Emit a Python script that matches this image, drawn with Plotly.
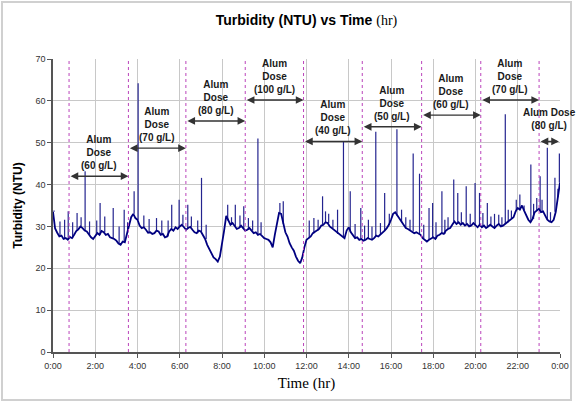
import plotly.graph_objects as go

# Baseline turbidity read every 0.1 h (0:00 .. 24:00)
base_step_hr = 0.1
base_values = [
    33.5, 29.5, 28.5, 27.6, 27.8, 27.0, 27.2, 26.8, 27.5, 27.2,
    28.0, 28.9, 29.3, 30.0, 29.6, 29.0, 28.8, 28.0, 27.4, 27.0,
    27.6, 28.4, 28.0, 28.9, 28.6, 28.0, 28.2, 27.4, 27.2, 27.0,
    26.6, 25.9, 25.6, 26.4, 26.2, 28.4, 30.5, 32.2, 33.0, 32.0,
    31.6, 30.2, 29.6, 29.8, 29.2, 28.5, 28.6, 28.2, 28.4, 29.0,
    28.8, 28.0, 28.2, 27.4, 27.6, 28.8, 29.4, 29.0, 29.8, 29.4,
    30.0, 30.4, 29.8, 29.2, 29.6, 29.9, 29.2, 28.6, 28.4, 29.0,
    28.8, 28.0, 27.0, 25.6, 24.6, 23.8, 22.6, 22.2, 21.6, 22.8,
    25.5, 29.0, 32.5, 31.4, 30.4, 30.8, 30.0, 29.4, 29.6, 30.2,
    29.6, 29.0, 29.2, 29.6, 29.0, 28.4, 28.6, 28.0, 28.2, 27.6,
    27.2, 27.0, 26.8, 26.2, 25.0, 28.0, 31.0, 33.2, 33.0, 30.6,
    28.6, 27.6, 26.0, 25.0, 24.2, 22.8, 21.8, 21.2, 22.6, 25.0,
    26.8, 27.2, 27.6, 28.4, 28.8, 29.0, 29.4, 30.2, 30.4, 31.0,
    30.8, 30.0, 29.6, 29.0, 28.6, 28.2, 27.8, 27.4, 27.2, 29.0,
    29.8, 28.6, 27.8, 27.2, 27.4, 26.8, 27.0, 26.6, 26.8, 27.2,
    27.0, 26.8, 27.2, 27.8, 27.6, 28.0, 28.4, 29.0, 29.6, 30.4,
    31.6, 33.0, 33.4, 32.6, 32.0, 31.0, 30.2, 29.6, 29.4, 29.0,
    28.8, 28.4, 28.6, 28.2, 28.0, 27.2, 26.8, 26.4, 26.8, 27.2,
    27.4, 27.0, 27.8, 28.0, 28.4, 28.2, 29.0, 29.4, 29.6, 30.4,
    31.2, 30.6, 31.0, 30.4, 30.8, 30.2, 30.6, 30.0, 30.2, 30.8,
    30.2, 29.8, 30.4, 29.8, 30.2, 29.6, 30.0, 30.4, 30.0, 29.6,
    30.2, 30.6, 30.0, 30.2, 30.6, 31.0, 31.4, 32.0, 32.2, 33.6,
    34.4, 34.0, 35.0, 33.8, 32.6, 31.6, 31.0, 31.8, 33.4, 33.8,
    34.2, 33.4, 33.6, 32.6, 31.6, 31.2, 31.0, 31.6, 33.5, 37.0,
    40.5,
]

# Short spikes (time in hours, peak turbidity in NTU)
spike_hours = [
    0.05, 0.33, 0.55, 0.72, 0.93, 1.14, 1.33, 1.52, 1.73, 2.07,
    2.23, 2.45, 2.85, 3.13, 3.37, 3.53, 3.84, 4.03, 4.30, 4.55,
    4.90, 5.15, 5.45, 5.62, 5.97, 6.15, 6.38, 6.55, 6.85, 7.03,
    7.25, 8.27, 8.45, 8.63, 8.85, 9.03, 9.25, 9.45, 9.70, 9.85,
    10.74, 10.90, 12.13, 12.35, 12.55, 12.76, 12.90, 13.05, 13.25, 13.47,
    13.75, 14.07, 14.30, 14.57, 14.75, 14.93, 15.10, 15.28, 15.50, 15.70,
    15.92, 16.28, 16.50, 16.70, 16.90, 17.05, 17.35, 17.55, 17.80, 17.97,
    18.13, 18.41, 18.55, 18.70, 18.97, 19.16, 19.33, 19.56, 19.75, 19.98,
    20.19, 20.35, 20.56, 20.73, 20.90, 21.10, 21.25, 21.41, 21.55, 21.70,
    21.93, 22.10, 22.30, 22.62, 22.75, 22.90, 23.06, 23.15, 23.40, 23.55,
    23.76, 23.90, 23.97,
]
spike_values = [
    33.8, 31.2, 31.6, 33.6, 31.0, 33.2, 32.2, 43.2, 31.2, 31.4,
    35.6, 32.4, 34.4, 30.0, 34.0, 31.0, 38.4, 64.2, 32.6, 31.8,
    32.0, 31.4, 31.4, 35.2, 36.4, 32.8, 35.2, 32.4, 31.4, 41.6,
    30.4, 35.2, 32.2, 35.2, 32.6, 34.8, 32.0, 31.4, 51.0, 31.0,
    35.6, 36.0, 31.4, 32.0, 31.6, 37.2, 33.6, 33.0, 31.6, 34.0,
    50.3, 38.4, 30.6, 34.4, 30.2, 31.6, 30.0, 52.6, 30.8, 38.0,
    33.0, 53.2, 34.0, 32.2, 31.6, 47.4, 42.6, 30.4, 34.4, 35.6,
    31.0, 38.4, 31.6, 32.2, 41.2, 38.0, 33.4, 39.6, 33.0, 40.4,
    38.0, 33.2, 35.6, 32.4, 33.0, 32.8, 32.2, 56.8, 34.0, 33.8,
    36.4, 37.6, 35.0, 44.8, 35.4, 36.8, 42.0, 36.4, 48.8, 33.4,
    41.6, 39.0, 47.4,
]

# Alum dose changes
dose_change_hours = [0.76, 3.57, 6.29, 9.10, 11.86, 14.64, 17.45, 20.25, 23.01]
dose_end_hour = 23.95
dose_labels = ["60 g/L", "70 g/L", "80 g/L", "100 g/L", "40 g/L",
               "50 g/L", "60 g/L", "70 g/L", "80 g/L"]
arrow_levels = [42.0, 48.7, 55.2, 60.2, 50.3, 53.8, 56.6, 60.2, 50.3]

tick_hours = [0, 2, 4, 6, 8, 10, 12, 14, 16, 18, 20, 22, 24]
tick_labels = ["0:00", "2:00", "4:00", "6:00", "8:00", "10:00", "12:00",
               "14:00", "16:00", "18:00", "20:00", "22:00", "0:00"]

base_hours = [i * base_step_hr for i in range(len(base_values))]

# spikes drawn as thin vertical strokes rising from the nearest baseline reading
sx, sy = [], []
for t, v in zip(spike_hours, spike_values):
    foot = base_values[min(range(len(base_hours)), key=lambda k: abs(base_hours[k] - t))]
    sx += [t, t, None]
    sy += [foot, v, None]

fig = go.Figure()
fig.add_trace(go.Scatter(x=sx, y=sy, mode="lines",
                         line=dict(color="#24248f", width=1.2),
                         hoverinfo="skip", showlegend=False))
fig.add_trace(go.Scatter(x=base_hours, y=base_values, mode="lines",
                         line=dict(color="#000080", width=1.8),
                         hoverinfo="skip", showlegend=False))

shapes = []
for h in dose_change_hours:
    shapes.append(dict(type="line", xref="x", yref="paper", x0=h, x1=h, y0=0, y1=1,
                       line=dict(color="#bb44bb", width=1, dash="dot"), layer="above"))

# outer chart border
L, T, W, H = 53, 59, 507, 293
def px_x(p):
    return (p - L) / W
def px_y(p):
    return (T + H - p) / H
shapes.append(dict(type="rect", xref="paper", yref="paper",
                   x0=px_x(2), x1=px_x(571), y0=px_y(400), y1=px_y(2),
                   line=dict(color="#d0d0d0", width=2)))

annotations = []
ends = dose_change_hours[1:] + [dose_end_hour]
lbl_font = dict(family="Liberation Sans, Arial", size=10, color="#1a1a1a")
for i, (s, e) in enumerate(zip(dose_change_hours, ends)):
    yv = arrow_levels[i]
    annotations.append(dict(x=e, y=yv, ax=s, ay=yv, xref="x", yref="y",
                            axref="x", ayref="y", text="", showarrow=True,
                            arrowhead=2, startarrowhead=2, arrowside="end+start",
                            arrowsize=1.1, arrowwidth=1.4, arrowcolor="#333333",
                            standoff=0, startstandoff=0))
    if i < len(dose_change_hours) - 1:
        annotations.append(dict(x=(s + e) / 2, y=yv, xref="x", yref="y",
                                text="<b>Alum<br>Dose<br>(%s)</b>" % dose_labels[i],
                                showarrow=False, xanchor="center", yanchor="bottom",
                                yshift=3, font=lbl_font, align="center"))
    else:
        annotations.append(dict(x=23.48, y=yv, xref="x", yref="y",
                                text="<b>Alum Dose<br>(%s)</b>" % dose_labels[i],
                                showarrow=False, xanchor="center", yanchor="bottom",
                                yshift=8, font=lbl_font, align="center"))

fig.update_layout(
    width=578, height=403,
    margin=dict(l=L, r=578 - L - W, t=T, b=403 - T - H, autoexpand=False),
    paper_bgcolor="white", plot_bgcolor="white",
    title=dict(text="<b>Turbidity (NTU) vs Time</b> <span style='font-family:Liberation Serif'>(hr)</span>",
               x=0.5, xref="paper", xanchor="center", y=1 - 20 / 403, yref="container",
               yanchor="middle", font=dict(family="Liberation Sans, Arial", size=14, color="#000")),
    xaxis=dict(range=[0, 24], tickvals=tick_hours, ticktext=tick_labels, automargin=False,
               showgrid=True, gridcolor="#c8c8c8", gridwidth=1,
               showline=True, linecolor="#555", linewidth=1.5,
               ticks="outside", ticklen=4, tickcolor="#555", zeroline=False,
               tickfont=dict(family="Liberation Sans, Arial", size=9, color="#333"),
               title=dict(text="Time (hr)", standoff=8,
                          font=dict(family="Liberation Serif, Times New Roman", size=15, color="#000"))),
    yaxis=dict(range=[0, 70], tickvals=[0, 10, 20, 30, 40, 50, 60, 70], automargin=False,
               showgrid=True, gridcolor="#c8c8c8", gridwidth=1,
               showline=True, linecolor="#555", linewidth=1.5,
               ticks="outside", ticklen=4, tickcolor="#555", zeroline=False,
               tickfont=dict(family="Liberation Sans, Arial", size=9, color="#333"),
               title=dict(text="<b>Turbidity (NTU)</b>", standoff=10,
                          font=dict(family="Liberation Sans, Arial", size=12, color="#000"))),
    shapes=shapes, annotations=annotations,
)

fig.write_html("out.html", config={"displayModeBar": False},
               post_script="document.body.style.margin='0';")
